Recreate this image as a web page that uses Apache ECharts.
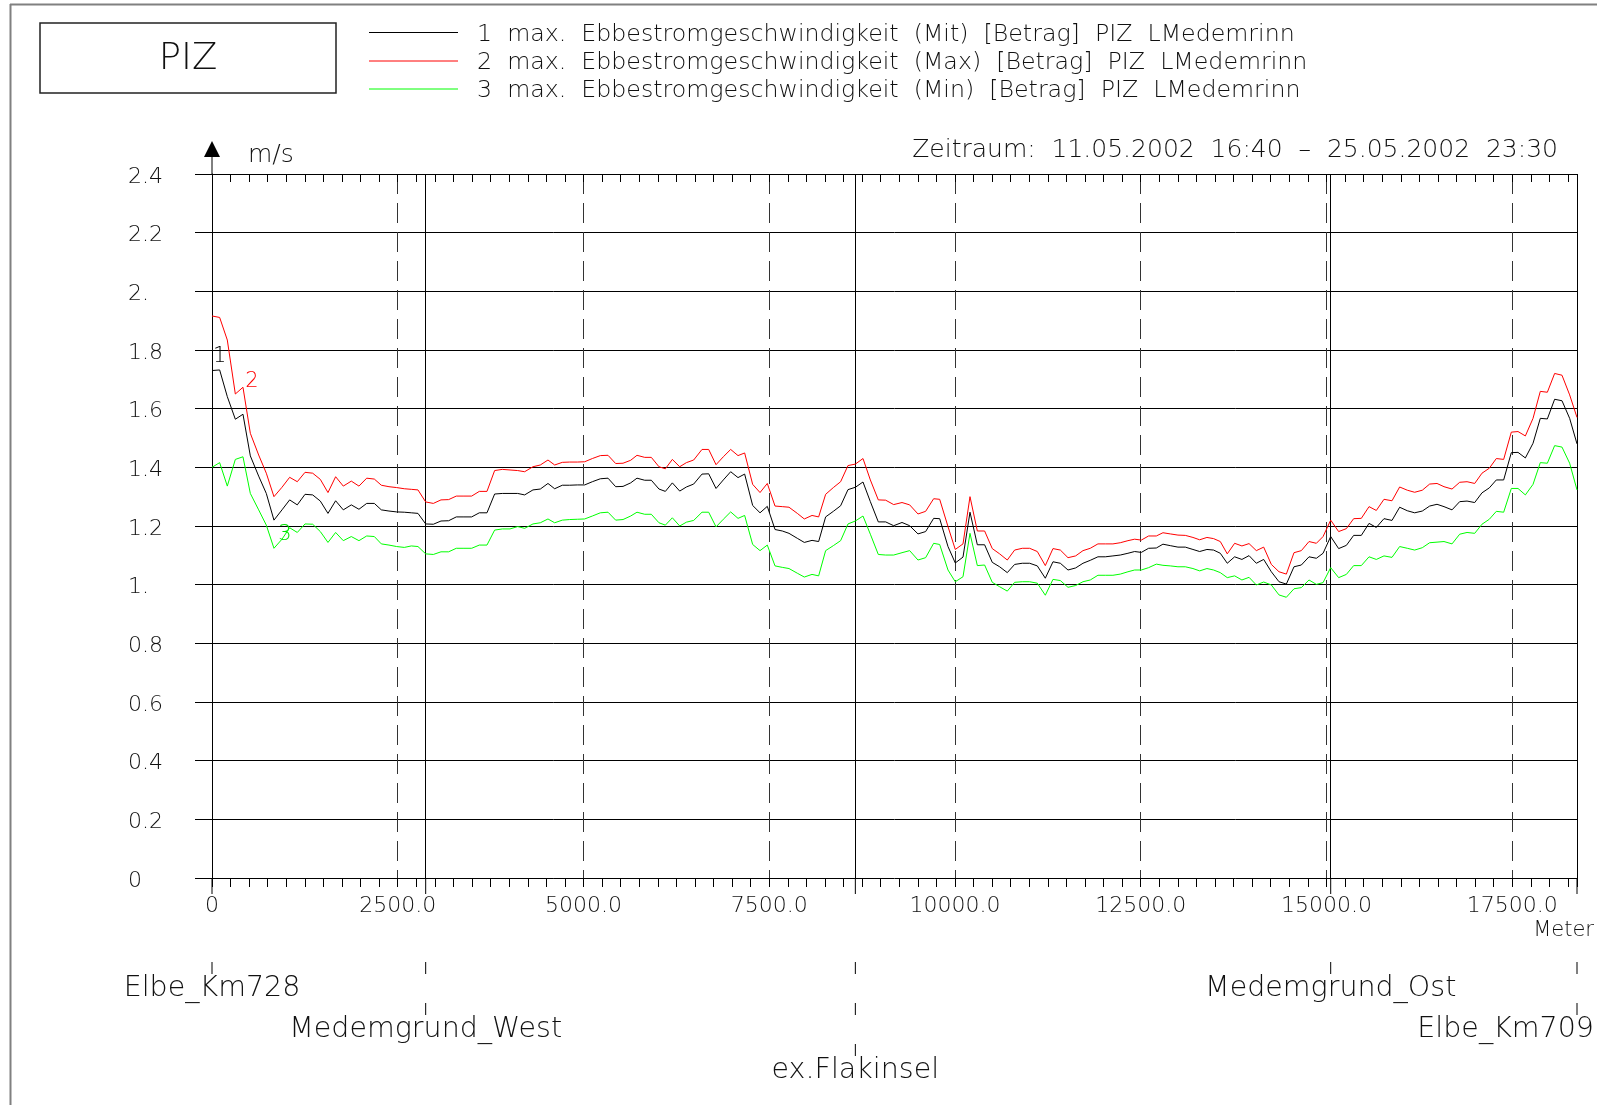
<!DOCTYPE html>
<html>
<head>
<meta charset="utf-8">
<script src="https://cdn.jsdelivr.net/npm/echarts@6/dist/echarts.min.js"></script>
<style>
html,body{margin:0;padding:0;background:#fff;}
#main{width:1597px;height:1105px;}
</style>
</head>
<body>
<div id="main"></div>
<script>
// ---------------- DATA ----------------
const distances = [
  0,103,206,314,417,516,628,731,834,942,1045,1148,1252,1355,1458,1561,1664,1767,1875,1978,2082,2185,2279,2382,2485,2588,2683,2772,2876,2979,3082,3185,3288,3391,3495,3598,3701,3804,3907,4011,4114,4208,4320,4419,4522,
  4612,4715,4814,4917,5016,5119,5227,5330,5433,5532,5635,5720,5824,5913,6016,6102,6196,6295,6385,6483,6595,6685,6784,6882,6981,7080,7169,7277,7376,7474,7578,7676,7766,7878,7972,8076,8165,8259,8363,8461,8560,8659,8762,8861,8968,9067,9175,
  9287,9390,9502,9605,9713,9794,9906,10004,10108,10202,10301,10399,10502,10601,10704,10803,10906,11005,11108,11216,11319,11418,11521,11624,11723,11821,11924,12023,12126,12225,12328,12418,12508,12606,12710,12799,12898,13001,13100,13203,13293,13391,13481,13571,13665,13764,13862,
  13958,14056,14155,14258,14361,14460,14563,14662,14765,14864,14954,15057,15164,15268,15366,15469,15573,15671,15774,15882,15985,16088,16187,16290,16389,16488,16582,16690,16793,16892,16995,17093,17192,17286,17385,17488,17578,17677,17780,17878,17973,18071,18170,18273,18372
];
const mitValues = [
  1.730,1.732,1.641,1.564,1.581,1.439,1.370,1.311,1.220,1.255,1.289,1.272,1.308,1.306,1.285,1.243,1.286,1.255,1.272,1.257,1.277,1.277,1.255,1.251,1.248,1.247,1.245,1.243,1.207,1.206,1.217,1.218,1.231,1.231,1.231,1.245,1.245,1.309,1.311,1.311,1.311,1.306,1.323,1.326,1.345,
  1.327,1.339,1.339,1.340,1.340,1.351,1.361,1.363,1.334,1.335,1.347,1.363,1.356,1.356,1.326,1.318,1.347,1.319,1.333,1.343,1.377,1.378,1.328,1.357,1.385,1.365,1.377,1.270,1.245,1.267,1.188,1.183,1.175,1.158,1.144,1.151,1.147,1.231,1.250,1.269,1.324,1.332,1.350,1.283,1.214,1.214,1.201,
  1.212,1.201,1.173,1.181,1.226,1.225,1.130,1.074,1.094,1.247,1.136,1.136,1.076,1.061,1.041,1.069,1.073,1.073,1.064,1.022,1.078,1.073,1.050,1.057,1.073,1.083,1.095,1.095,1.098,1.101,1.107,1.113,1.110,1.124,1.125,1.138,1.133,1.128,1.128,1.120,1.113,1.120,1.118,1.107,1.073,1.095,1.086,
  1.099,1.073,1.086,1.044,1.010,1.002,1.061,1.067,1.095,1.090,1.107,1.164,1.123,1.134,1.168,1.168,1.209,1.195,1.225,1.219,1.264,1.252,1.245,1.251,1.268,1.274,1.266,1.255,1.283,1.285,1.280,1.313,1.330,1.357,1.357,1.450,1.451,1.432,1.482,1.567,1.565,1.632,1.627,1.567,1.480
];
const maxValues = [
  1.916,1.911,1.834,1.650,1.673,1.516,1.442,1.380,1.300,1.332,1.366,1.351,1.383,1.380,1.359,1.314,1.368,1.336,1.353,1.336,1.363,1.360,1.339,1.334,1.331,1.327,1.325,1.323,1.282,1.277,1.289,1.290,1.302,1.302,1.302,1.318,1.318,1.389,1.393,1.391,1.389,1.385,1.402,1.408,1.425,
  1.408,1.417,1.418,1.418,1.419,1.430,1.440,1.441,1.413,1.414,1.424,1.441,1.434,1.434,1.402,1.395,1.427,1.402,1.416,1.425,1.461,1.461,1.409,1.436,1.461,1.440,1.449,1.342,1.314,1.345,1.268,1.266,1.264,1.243,1.224,1.236,1.231,1.308,1.331,1.351,1.406,1.411,1.430,1.357,1.289,1.288,1.273,
  1.280,1.272,1.241,1.250,1.293,1.291,1.198,1.120,1.139,1.300,1.183,1.183,1.123,1.105,1.084,1.118,1.124,1.124,1.113,1.065,1.123,1.118,1.092,1.098,1.116,1.124,1.139,1.139,1.139,1.143,1.150,1.155,1.152,1.166,1.166,1.177,1.173,1.169,1.168,1.161,1.153,1.161,1.157,1.147,1.105,1.141,1.132,
  1.140,1.116,1.128,1.069,1.044,1.036,1.109,1.116,1.147,1.141,1.164,1.220,1.181,1.191,1.225,1.226,1.266,1.253,1.291,1.286,1.333,1.322,1.315,1.322,1.343,1.345,1.334,1.326,1.349,1.351,1.345,1.380,1.397,1.430,1.427,1.520,1.522,1.507,1.567,1.659,1.656,1.720,1.714,1.647,1.570
];
const minValues = [
  1.400,1.416,1.336,1.427,1.436,1.311,1.255,1.203,1.124,1.155,1.194,1.178,1.207,1.206,1.181,1.144,1.178,1.150,1.164,1.150,1.166,1.164,1.139,1.135,1.130,1.127,1.132,1.130,1.105,1.103,1.112,1.112,1.124,1.124,1.124,1.135,1.135,1.186,1.190,1.190,1.198,1.192,1.207,1.211,1.224,
  1.211,1.220,1.222,1.223,1.224,1.234,1.245,1.247,1.220,1.222,1.234,1.247,1.240,1.240,1.211,1.203,1.228,1.200,1.213,1.219,1.247,1.247,1.197,1.223,1.248,1.226,1.236,1.137,1.116,1.135,1.064,1.059,1.055,1.039,1.026,1.035,1.030,1.116,1.133,1.150,1.207,1.217,1.234,1.172,1.103,1.101,1.101,
  1.109,1.116,1.084,1.092,1.141,1.137,1.050,1.010,1.027,1.175,1.065,1.067,1.008,0.993,0.978,1.008,1.010,1.010,1.005,0.964,1.018,1.014,0.991,0.997,1.010,1.016,1.032,1.032,1.032,1.036,1.044,1.050,1.050,1.058,1.070,1.066,1.064,1.061,1.061,1.055,1.047,1.055,1.050,1.041,1.024,1.030,1.016,
  1.025,0.999,1.009,0.999,0.965,0.957,0.986,0.990,1.016,1.001,1.007,1.058,1.024,1.035,1.065,1.065,1.095,1.086,1.098,1.093,1.130,1.124,1.118,1.126,1.143,1.145,1.147,1.139,1.172,1.178,1.175,1.206,1.223,1.250,1.247,1.328,1.328,1.306,1.342,1.416,1.414,1.474,1.469,1.414,1.323
];
const seriesNames = [
  '1  max.  Ebbestromgeschwindigkeit  (Mit)  [Betrag]  PIZ  LMedemrinn',
  '2  max.  Ebbestromgeschwindigkeit  (Max)  [Betrag]  PIZ  LMedemrinn',
  '3  max.  Ebbestromgeschwindigkeit  (Min)  [Betrag]  PIZ  LMedemrinn'
];
const seriesTags = ['1', '2', '3'];
const stationNames = ['Elbe_Km728', 'Medemgrund_West', 'ex.Flakinsel', 'Medemgrund_Ost', 'Elbe_Km709'];
const stationKm = [0, 2876, 8659, 15057, 18372];
const yTickLabels = ['0', '0.2', '0.4', '0.6', '0.8', '1.', '1.2', '1.4', '1.6', '1.8', '2.', '2.2', '2.4'];
const titleText = 'PIZ';
const periodText = 'Zeitraum:  11.05.2002  16:40  –  25.05.2002  23:30';
const yUnit = 'm/s';
const xUnit = 'Meter';
const X_MAX = 18372;

// ---------------- LAYOUT / STYLE ----------------
const FONT = "'DejaVu Sans', sans-serif";
const FW = 200;
const COLORS = ['#000000', '#ff0000', '#00ff00'];
const stationRows = [0, 1, 2, 0, 1];
const tagAnchorIndex = [1, 4, 9];
const tagOffset = [[0, -13], [9, -6], [3, -5]];
const STATION_FONT = 28.5;

const chart = echarts.init(document.getElementById('main'), null, {renderer: 'canvas'});
const pairs = vals => distances.map((d, i) => [d, vals[i]]);
const valuesList = [mitValues, maxValues, minValues];

const axisBase = {type: 'value', min: 0, max: X_MAX, gridIndex: 0};

const option = {
  animation: false,
  backgroundColor: '#ffffff',
  grid: {left: 212, right: 20, top: 174, bottom: 227, containLabel: false, outerBoundsMode: 'none'},
  xAxis: [
    Object.assign({}, axisBase, {
      position: 'bottom', interval: 250,
      axisLine: {show: true, onZero: false, lineStyle: {color: '#000', width: 1, type: [10, 3, 2, 3]}},
      axisTick: {show: true, inside: false, length: 9, lineStyle: {color: '#000', width: 1}},
      axisLabel: {show: false}, splitLine: {show: false}
    }),
    Object.assign({}, axisBase, {
      position: 'bottom', interval: 2500,
      axisLine: {show: false}, axisTick: {show: false},
      axisLabel: {
        show: true, margin: 17, fontFamily: FONT, fontWeight: FW, fontSize: 22, color: '#111',
        formatter: v => (v % 2500 === 0 ? (v === 0 ? '0' : v.toFixed(1)) : '')
      },
      splitLine: {show: true, lineStyle: {color: '#333', width: 1, type: [20, 9]}}
    }),
    Object.assign({}, axisBase, {
      position: 'top', interval: 250,
      axisLine: {show: true, onZero: false, lineStyle: {color: '#000', width: 1}},
      axisTick: {show: true, inside: true, length: 8, lineStyle: {color: '#000', width: 1}},
      axisLabel: {show: false}, splitLine: {show: false}
    })
  ],
  yAxis: {
    type: 'value', min: 0, max: 2.4, interval: 0.2,
    axisLine: {show: true, onZero: false, lineStyle: {color: '#000', width: 1}},
    axisTick: {show: true, inside: false, length: 17, lineStyle: {color: '#000', width: 1}},
    axisLabel: {
      show: true, align: 'left', margin: 84, fontFamily: FONT, fontWeight: FW, fontSize: 22, color: '#111',
      formatter: v => '{t|' + yTickLabels[Math.round(v / 0.2)] + '}',
      rich: {t: {fontFamily: FONT, fontWeight: FW, fontSize: 22, color: '#111', padding: [6, 0, 0, 0]}}
    },
    splitLine: {show: true, lineStyle: {color: '#000', width: 1}}
  },
  series: valuesList.map((vals, k) => ({
    type: 'line', name: seriesNames[k], xAxisIndex: 0, yAxisIndex: 0,
    data: pairs(vals), showSymbol: false, symbol: 'none', silent: true,
    lineStyle: {color: COLORS[k], width: 1}, z: 10 - k,
    markLine: k === 0 ? {
      silent: true, symbol: ['none', 'none'], label: {show: false},
      lineStyle: {color: '#000', width: 1, type: 'solid'},
      data: stationKm.map(km => ({xAxis: km}))
    } : undefined
  }))
};
chart.setOption(option);

// ---------------- DECORATIONS (placed via the chart's scales) ----------------
const px = (x, y) => chart.convertToPixel({xAxisIndex: 0, yAxisIndex: 0}, [x, y]);
const txt = (text, x, y, size, align, vAlign, color) => ({
  type: 'text', x: x, y: y, silent: true,
  style: {text: text, fontFamily: FONT, fontWeight: FW, fontSize: size, fill: color || '#111',
          align: align || 'left', verticalAlign: vAlign || 'middle'}
});
const ln = (x1, y1, x2, y2, color, w) => ({
  type: 'line', silent: true, shape: {x1: x1, y1: y1, x2: x2, y2: y2},
  style: {stroke: color || '#000', lineWidth: w || 1}
});

const g = [];
// page frame
g.push(ln(10, 4.5, 1597, 4.5, '#808080', 2));
g.push(ln(10.5, 4, 10.5, 1105, '#808080', 2));
// title box
g.push({type: 'rect', silent: true, shape: {x: 40, y: 23, width: 296, height: 70},
        style: {fill: 'none', stroke: '#222', lineWidth: 1.5}});
g.push(txt(titleText, 188, 59, 37, 'center', 'middle'));
// legend
const legendY = [32.5, 61, 89];
legendY.forEach((y, k) => {
  g.push(ln(369, y, 458, y, COLORS[k], 1));
  g.push(txt(seriesNames[k], 477, y + 2, 23.7, 'left', 'middle'));
});
// period
g.push(txt(periodText, 1558, 150, 25, 'right', 'middle'));
// y axis arrow + unit
const axisTopPt = px(0, 2.4);
g.push(ln(axisTopPt[0], axisTopPt[1], axisTopPt[0], axisTopPt[1] - 17, '#000', 1));
g.push({type: 'polygon', silent: true,
        shape: {points: [[axisTopPt[0], axisTopPt[1] - 33], [axisTopPt[0] - 8, axisTopPt[1] - 17], [axisTopPt[0] + 8, axisTopPt[1] - 17]]},
        style: {fill: '#000'}});
g.push(txt(yUnit, 248, 155, 25, 'left', 'middle'));
// x unit
const rightPt = px(X_MAX, 0);
g.push(txt(xUnit, 1594, rightPt[1] + 53, 21, 'right', 'middle'));
// stations below the axis
const mctx = document.createElement('canvas').getContext('2d');
stationKm.forEach((km, i) => {
  const p = px(km, 0);
  const r = stationRows[i];
  g.push(ln(p[0], p[1], p[0], p[1] + 16, '#000', 1));
  for (let k = 0; k <= r; k++) {
    g.push(ln(p[0], p[1] + 84 + 41 * k, p[0], p[1] + 96 + 41 * k, '#000', 1));
  }
  mctx.font = FW + ' ' + STATION_FONT + 'px ' + FONT;
  const w = mctx.measureText(stationNames[i]).width;
  let cx = p[0];
  if (cx + w / 2 > 1594) cx = 1594 - w / 2;
  g.push(txt(stationNames[i], cx, p[1] + 111 + 41 * r, STATION_FONT, 'center', 'middle'));
});
// series tags near the curves
valuesList.forEach((vals, k) => {
  const idx = tagAnchorIndex[k];
  const p = px(distances[idx], vals[idx]);
  g.push(txt(seriesTags[k], p[0] + tagOffset[k][0], p[1] + tagOffset[k][1], 21, 'center', 'middle', k === 2 ? '#00e000' : COLORS[k]));
});
chart.setOption({graphic: {elements: g}});
</script>
</body>
</html>
